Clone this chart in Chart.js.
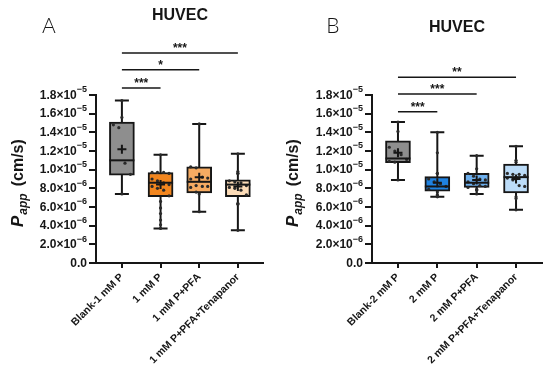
<!DOCTYPE html>
<html><head><meta charset="utf-8">
<script src="https://cdn.jsdelivr.net/npm/chart.js@4.4.1/dist/chart.umd.min.js"></script>
<style>
html,body{margin:0;padding:0;background:#fff;}
.p{position:absolute;top:0;width:275px;height:378px;}
#pa{left:0;} #pb{left:275px;}
</style></head>
<body>
<div class="p" id="pa"><canvas id="ca" width="275" height="378"></canvas></div>
<div class="p" id="pb"><canvas id="cb" width="275" height="378"></canvas></div>
<script>
// values in units of 10^-6 cm/s
const catsA = ['Blank-1 mM P','1 mM P','1 mM P+PFA','1 mM P+PFA+Tenapanor'];
const minA  = [7.4, 3.7, 5.5, 3.5];
const q1A   = [9.4, 7.1, 7.5, 7.1];
const medA  = [11.0, 8.6, 8.7, 8.4];
const q3A   = [15.1, 9.7, 10.3, 8.9];
const maxA  = [17.4, 11.6, 14.9, 11.7];
const meanA = [12.2, 8.4, 9.2, 8.2];
const ptsA = [
  [17.4,15.6,14.8,14.5,10.7,9.5,7.4],
  [11.6,9.7,9.7,9.7,9.6,9.0,8.8,8.6,8.4,8.2,8.0,7.8,7.2,6.6,5.9,5.3,4.6,4.1,3.7],
  [14.9,10.3,10.2,9.2,9.1,9.0,8.3,8.2,8.2,8.1,7.6,7.4,5.5],
  [11.7,9.8,9.6,9.6,8.8,8.7,8.6,8.3,8.1,8.0,7.8,7.3,6.4,6.3,3.5]
];
const sigA = [[0,1,'***'],[0,2,'*'],[0,3,'***']];

const catsB = ['Blank-2 mM P','2 mM P','2 mM P+PFA','2 mM P+PFA+Tenapanor'];
const minB  = [8.9, 7.1, 7.4, 5.7];
const q1B   = [10.75, 7.7, 8.1, 7.5];
const medB  = [11.2, 8.2, 8.6, 9.2];
const q3B   = [13.1, 9.25, 9.6, 10.6];
const maxB  = [15.1, 14.0, 11.5, 12.5];
const meanB = [11.8, 8.6, 8.9, 9.0];
const ptsB = [
  [15.1,14.1,12.4,12.0,11.6,11.1,10.9,10.8,8.9],
  [14.0,11.8,9.6,9.6,9.0,8.7,8.5,8.2,7.9,7.6,7.3,7.2,7.1,7.1],
  [11.5,10.1,9.6,9.3,9.0,8.9,8.7,8.5,8.3,8.2,8.1,7.9,7.8,7.4],
  [12.5,11.0,10.8,9.6,9.5,9.5,9.4,9.1,8.9,8.3,8.2,7.1,6.9,5.7]
];
const sigB = [[0,1,'***'],[0,2,'***'],[0,3,'**']];

const yTicks    = [0,2,4,6,8,10,12,14,16,18];
const yTickBase = ['0.0','2.0×10','4.0×10','6.0×10','8.0×10','1.0×10','1.2×10','1.4×10','1.6×10','1.8×10'];
const yTickExp  = ['','−6','−6','−6','−6','−5','−5','−5','−5','−5'];

const FONT = '"Liberation Sans", Arial, sans-serif';
const INK = '#161616';

function makePanel(canvasId, P){
  const jit = [-0.22,-0.08,0.08,0.22];
  const scatter = [];
  P.pts.forEach((arr,i)=>{
    let k=0;
    arr.forEach(v=>{
      let dx = 0;
      if (v >= P.q1[i] && v <= P.q3[i]) { dx = jit[k%4]; k++; }
      scatter.push({x:i+dx, y:v});
    });
  });
  const boxPlugin = {
    id:'box',
    beforeDatasetsDraw(chart){
      const {ctx, scales:{x,y}} = chart;
      ctx.save(); ctx.strokeStyle=INK; ctx.lineWidth=2;
      P.cats.forEach((c,i)=>{
        const px = x.getPixelForValue(i);
        ctx.beginPath();
        ctx.moveTo(px, y.getPixelForValue(P.min[i])); ctx.lineTo(px, y.getPixelForValue(P.max[i]));
        [P.min[i],P.max[i]].forEach(v=>{ const py=y.getPixelForValue(v); ctx.moveTo(px-7,py); ctx.lineTo(px+7,py); });
        ctx.stroke();
      });
      ctx.restore();
    },
    afterDatasetsDraw(chart){
      const {ctx, scales:{x,y}} = chart;
      ctx.save(); ctx.strokeStyle=INK; ctx.lineWidth=2;
      P.cats.forEach((c,i)=>{
        const px = x.getPixelForValue(i);
        const pm = y.getPixelForValue(P.med[i]);
        ctx.beginPath(); ctx.moveTo(px-12.5,pm); ctx.lineTo(px+12.5,pm); ctx.stroke();
        const pe = y.getPixelForValue(P.mean[i]);
        ctx.beginPath(); ctx.moveTo(px-4.5,pe); ctx.lineTo(px+4.5,pe); ctx.moveTo(px,pe-4.5); ctx.lineTo(px,pe+4.5); ctx.stroke();
      });
      ctx.restore();
    },
    afterDraw(chart){
      const {ctx, scales:{x,y}} = chart;
      ctx.save();
      ctx.fillStyle = INK; ctx.textBaseline='middle';
      const right = y.right - 9;
      yTicks.forEach((v,i)=>{
        const py = y.getPixelForValue(v);
        ctx.font = 'bold 9px '+FONT; ctx.textAlign='right';
        const ew = yTickExp[i] ? ctx.measureText(yTickExp[i]).width : 0;
        if (yTickExp[i]) ctx.fillText(yTickExp[i], right, py-5);
        ctx.font = 'bold 12px '+FONT;
        ctx.fillText(yTickBase[i], right-ew, py+0.5);
      });
      ctx.strokeStyle=INK; ctx.lineWidth=1.5; ctx.textAlign='center'; ctx.textBaseline='alphabetic';
      P.sig.forEach((s,k)=>{
        const py = y.getPixelForValue(P.sigY[k]);
        const x0 = x.getPixelForValue(s[0]), x1 = x.getPixelForValue(s[1]);
        ctx.beginPath(); ctx.moveTo(x0,py); ctx.lineTo(x1,py); ctx.stroke();
        ctx.font='bold 12px '+FONT;
        ctx.fillText(s[2], (x0+x1)/2, py-1);
      });
      ctx.font='bold 16px '+FONT; ctx.textBaseline='middle';
      ctx.fillText('HUVEC', P.titleX, P.titleY);
      ctx.font='300 21px Lato, "Open Sans", sans-serif'; ctx.textAlign='center';
      ctx.fillText(P.letter, P.letterX, 26);
      ctx.translate(23, 227); ctx.rotate(-Math.PI/2);
      ctx.textAlign='left'; ctx.textBaseline='alphabetic';
      ctx.font='italic bold 17px '+FONT; ctx.fillText('P',0,0);
      let w = ctx.measureText('P').width;
      ctx.font='italic bold 12px '+FONT; ctx.fillText('app', w+1, 4);
      w += 1 + ctx.measureText('app').width + 7;
      ctx.font='bold 16px '+FONT; ctx.fillText('(cm/s)', w, 0);
      ctx.restore();
    }
  };
  return new Chart(document.getElementById(canvasId), {
    data:{
      datasets:[
        {type:'scatter', order:0, data:scatter, pointRadius:1.6, pointBackgroundColor:'#2a2a2a', pointBorderWidth:0},
        {type:'bar', order:1, data:P.cats.map((c,i)=>({x:i, y:[P.q1[i],P.q3[i]]})),
         backgroundColor:P.colors, borderColor:INK, borderWidth:2, borderSkipped:false, barThickness:25, grouped:false}
      ]
    },
    options:{
      responsive:false, animation:false, events:[],
      layout:{padding:{top:95, right:P.padRight, left:0, bottom:0}},
      plugins:{legend:{display:false}, tooltip:{enabled:false}},
      scales:{
        x:{type:'linear', min:P.xmin, max:P.xmax, offset:false,
           afterBuildTicks:(s)=>{ s.ticks = P.cats.map((c,i)=>({value:i})); },
           afterFit:(s)=>{ s.height = 115; },
           grid:{offset:false, drawOnChartArea:false, drawTicks:true, tickLength:5, color:INK, lineWidth:2},
           border:{display:true, color:INK, width:2},
           ticks:{autoSkip:false, minRotation:45, maxRotation:45, padding:3, color:INK,
                  font:{family:FONT, weight:'bold', size:10.5},
                  callback:(v)=>P.cats[Math.round(v)]}
        },
        y:{type:'linear', min:0, max:18,
           afterBuildTicks:(s)=>{ s.ticks = yTicks.map(v=>({value:v})); },
           afterFit:(s)=>{ s.width = P.yWidth; },
           grid:{drawOnChartArea:false, drawTicks:true, tickLength:7, color:INK, lineWidth:2},
           border:{display:true, color:INK, width:2},
           ticks:{display:false}
        }
      }
    },
    plugins:[boxPlugin]
  });
}

makePanel('ca', {cats:catsA, min:minA, q1:q1A, med:medA, q3:q3A, max:maxA, mean:meanA, pts:ptsA,
  sig:sigA, sigY:[18.75,20.7,22.5], colors:['#8e8e8e','#f2861f','#f6ab62','#fcdcb8'],
  xmin:-0.67, xmax:3.65, padRight:12, yWidth:96, titleX:180, titleY:16, letter:'A', letterX:49});
makePanel('cb', {cats:catsB, min:minB, q1:q1B, med:medB, q3:q3B, max:maxB, mean:meanB, pts:ptsB,
  sig:sigB, sigY:[16.2,18.1,19.9], colors:['#8e8e8e','#1f82e0','#6eb0ee','#bcdcf8'],
  xmin:-0.66, xmax:3.66, padRight:8, yWidth:97, titleX:182, titleY:28, letter:'B', letterX:58});
</script>
</body></html>
